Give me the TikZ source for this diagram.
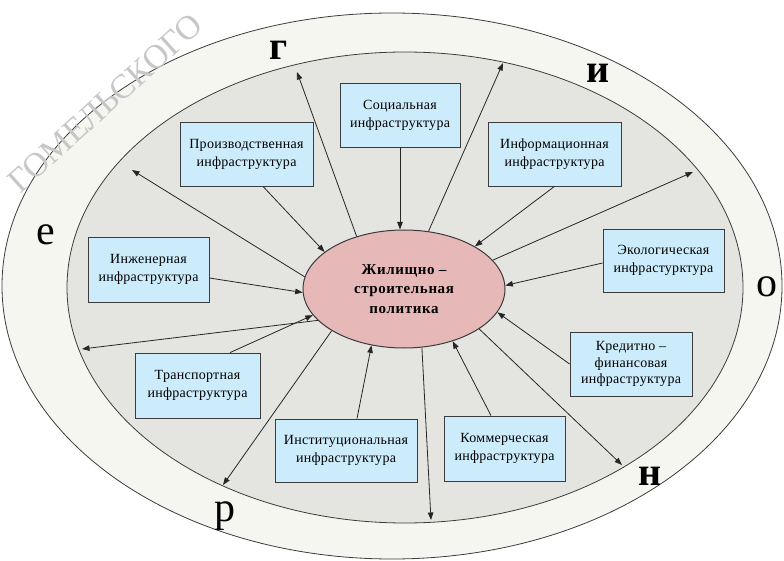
\documentclass[tikz,border=0pt]{standalone}
\usepackage{fontspec}
\setmainfont{Liberation Serif}
\usetikzlibrary{shapes.geometric,arrows.meta,calc}
\definecolor{ringfill}{RGB}{246,246,241}
\definecolor{innerfill}{RGB}{228,228,225}
\definecolor{boxfill}{RGB}{204,236,252}
\definecolor{centerfill}{RGB}{230,184,183}
\definecolor{edge}{RGB}{60,60,60}
\begin{document}
\begin{tikzpicture}[x=1pt,y=-1pt,
  infobox/.style={draw=edge, line width=0.8pt, fill=boxfill, align=center, inner sep=0pt, font=\fontsize{14}{18}\selectfont\addfontfeatures{LetterSpace=2}},
  link/.style={draw=black!85, line width=0.8pt},
  arr/.style={link, -{Triangle[length=7.5pt,width=5.5pt]}},
  bigletter/.style={inner sep=0pt, anchor=base, font=\fontsize{42}{42}\selectfont},
  bigbold/.style={inner sep=0pt, anchor=base, font=\bfseries\fontsize{40}{40}\selectfont}]
\useasboundingbox (0,0) rectangle (784,561);
\begin{scope}
\clip (0,0) rectangle (784,561);
\draw[edge, line width=0.8pt, fill=ringfill] (392,286) ellipse [x radius=390pt, y radius=273pt];
\draw[edge, line width=0.8pt, fill=innerfill] (405,287.5) ellipse [x radius=338pt, y radius=235.5pt];
\end{scope}

\node[ellipse, draw=edge, line width=1pt, fill=centerfill, minimum width=202pt, minimum height=118pt, inner sep=0pt, align=center, font=\bfseries\fontsize{15}{19.5}\selectfont\addfontfeatures{LetterSpace=4}] (C) at (404,289) {Жилищно –\\строительная\\политика};

\node[infobox, minimum width=120pt, minimum height=64pt] (soc) at (400,115) {Социальная\\инфраструктура};
\node[infobox, minimum width=133pt, minimum height=64pt] (proizv) at (246.5,154) {Производственная\\инфраструктура};
\node[infobox, minimum width=133pt, minimum height=64pt] (inform) at (554.5,154) {Информационная\\инфраструктура};
\node[infobox, minimum width=121pt, minimum height=65pt] (inzh) at (148.5,269.5) {Инженерная\\инфраструктура};
\node[infobox, minimum width=121pt, minimum height=63pt] (ekol) at (663.5,260.5) {Экологическая\\инфрастурктура};
\node[infobox, minimum width=122pt, minimum height=64pt, font=\fontsize{14}{16.5}\selectfont\addfontfeatures{LetterSpace=2}] (kred) at (631,364) {Кредитно –\\финансовая\\инфраструктура};
\node[infobox, minimum width=125pt, minimum height=65pt] (transp) at (197.5,385.5) {Транспортная\\инфраструктура};
\node[infobox, minimum width=142pt, minimum height=63pt] (inst) at (346,450.5) {Институциональная\\инфраструктура};
\node[infobox, minimum width=121pt, minimum height=65pt] (komm) at (504.5,448.5) {Коммерческая\\инфраструктура};

\coordinate (tG) at (297,72);
\coordinate (tUL) at (132,170);
\coordinate (tL) at (82,349);
\coordinate (tR) at (223,485);
\coordinate (tB) at (431,520);
\coordinate (tN) at (622,465);
\coordinate (tUR) at (693,172);
\coordinate (tI) at (503,63);

\draw[arr] (soc.south) -- (soc.south |- C.north);
\draw[arr] ($(proizv.south)+(16.5,0)$) -- (C.155);
\draw[arr] (C.132) -- (tG);
\draw[arr] (C.173) -- (tUL);
\draw[arr] ($(inzh.east)+(0,8.5)$) -- (C.182);
\draw[arr] (C.200) -- (tL);
\draw[arr] ($(transp.north)+(32.5,0)$) -- (C.196);
\draw[arr] (C.210) -- (tR);
\draw[arr] ($(inst.north)+(11,0)$) -- (C.240);
\draw[arr] (C.287) -- (tB);
\draw[arr] ($(komm.north)+(-13.5,0)$) -- (C.313);
\draw[arr] (C.332) -- (tN);
\draw[arr] (kred.west) -- (C.346);
\draw[arr] ($(ekol.west)+(0,2.5)$) -- (C.2);
\draw[arr] (C.18) -- (tUR);
\draw[arr] (inform.south) -- (C.31);
\draw[arr] (C.67) -- (tI);

\node[bigbold] (lg) at (279,60) {г};
\node[bigbold] (li) at (598,83) {и};
\node[bigletter] (le) at (46,245) {е};
\node[bigletter] (lo) at (767,296) {о};
\node[bigbold] (ln) at (650,485) {н};
\node[bigletter] (lr) at (225,521) {р};

\begin{scope}
\clip (0,0) rectangle (784,561);
\node[rotate=42, anchor=west, inner sep=0pt, text=black!22, font=\fontsize{34}{34}\selectfont] (wm) at (13,186) {ГОМЕЛЬСКОГО};
\end{scope}
\end{tikzpicture}
\end{document}
